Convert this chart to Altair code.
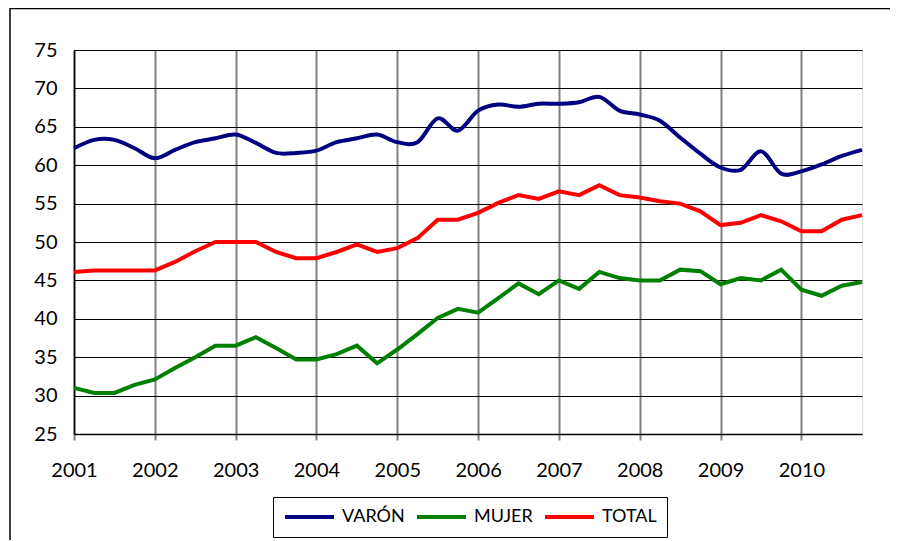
import altair as alt
import pandas as pd

# ---- data (quarterly, 2001 Q1 .. 2010 Q4) ----
years = [2001, 2002, 2003, 2004, 2005, 2006, 2007, 2008, 2009, 2010]
quarter_offsets = [0.0, 0.25, 0.5, 0.75]
series_names = ["VARÓN", "MUJER", "TOTAL"]
series_colors = ["#000080", "#008000", "#FF0000"]
y_ticks = [25, 30, 35, 40, 45, 50, 55, 60, 65, 70, 75]

varon = [62.2, 63.3, 63.3, 62.2, 60.9, 62.0, 63.0, 63.5,
         64.0, 62.9, 61.6, 61.6, 61.9, 63.0, 63.5, 64.0,
         63.0, 63.0, 66.1, 64.5, 67.1, 67.9, 67.6, 68.0,
         68.0, 68.2, 68.9, 67.1, 66.6, 65.8, 63.6, 61.5,
         59.7, 59.4, 61.8, 58.9, 59.2, 60.1, 61.2, 62.0]

mujer = [31.0, 30.35, 30.35, 31.4, 32.1, 33.6, 35.0, 36.5,
         36.5, 37.6, 36.2, 34.7, 34.7, 35.4, 36.5, 34.2,
         36.0, 38.0, 40.1, 41.3, 40.8, 42.7, 44.6, 43.2,
         45.0, 43.9, 46.1, 45.3, 45.0, 45.0, 46.4, 46.2,
         44.5, 45.3, 45.0, 46.4, 43.8, 43.0, 44.3, 44.8]

total = [46.1, 46.3, 46.3, 46.3, 46.3, 47.4, 48.8, 50.0,
         50.0, 50.0, 48.7, 47.9, 47.9, 48.7, 49.7, 48.7,
         49.2, 50.5, 52.9, 52.9, 53.8, 55.1, 56.1, 55.6,
         56.6, 56.1, 57.4, 56.1, 55.8, 55.3, 55.0, 54.0,
         52.2, 52.5, 53.5, 52.7, 51.4, 51.4, 52.9, 53.5]

periodo = [y + q for y in years for q in quarter_offsets]

rows = []
for name, vals in zip(series_names, [varon, mujer, total]):
    for p, v in zip(periodo, vals):
        rows.append({"periodo": p, "valor": v, "serie": name})
df = pd.DataFrame(rows)

FONT = "Lato"

x_enc = alt.X(
    "periodo:Q",
    scale=alt.Scale(domain=[2001, 2010.75], nice=False, zero=False),
    axis=alt.Axis(values=years, format="d", title=None, grid=True,
                  gridColor="#808080", gridWidth=2, gridOpacity=1,
                  tickColor="#808080", tickWidth=2, tickSize=6,
                  labelPadding=20, labelFontSize=20, labelColor="black",
                  labelFont=FONT, labelFlush=False,
                  domainColor="black", domainWidth=1.5),
)
y_enc = alt.Y(
    "valor:Q",
    scale=alt.Scale(domain=[25, 75], nice=False, zero=False),
    axis=alt.Axis(values=y_ticks, title=None, grid=True,
                  gridColor="black", gridWidth=1, gridOpacity=1,
                  ticks=False, labelPadding=17, labelFontSize=20,
                  labelColor="black", labelFont=FONT,
                  domainColor="black", domainWidth=1.5),
)
color_enc = alt.Color(
    "serie:N",
    scale=alt.Scale(domain=series_names, range=series_colors),
    legend=alt.Legend(title=None, orient="none", legendX=199, legendY=447,
                      direction="horizontal", symbolType="stroke",
                      symbolSize=2401, symbolStrokeWidth=4, clipHeight=20,
                      padding=10, strokeColor="black",
                      labelFontSize=18, labelFont=FONT, labelColor="black",
                      labelOffset=6, columnPadding=10),
)

base = alt.Chart(df).encode(x=x_enc, y=y_enc, color=color_enc)

smooth = base.transform_filter(alt.datum.serie == "VARÓN").mark_line(
    interpolate="cardinal", strokeWidth=4)
straight = base.transform_filter(alt.datum.serie != "VARÓN").mark_line(
    strokeWidth=4)

frame_df = pd.DataFrame({"k": [0]})
frame_left = alt.Chart(frame_df).mark_rule(color="black", strokeWidth=1.5).encode(
    x=alt.value(-64), y=alt.value(-42), y2=alt.value(491))
frame_top = alt.Chart(frame_df).mark_rule(color="black", strokeWidth=1.5).encode(
    x=alt.value(-64), x2=alt.value(830), y=alt.value(-41.5))

chart = alt.layer(frame_left, frame_top, straight, smooth).properties(
    width=788, height=384,
    autosize=alt.AutoSizeParams(type="none"),
    padding={"left": 66, "top": 42, "right": 28, "bottom": 106},
).configure_view(stroke="black", strokeWidth=1.5).configure(background="white")

chart.save("out.html", embed_options={"renderer": "svg", "actions": False})
